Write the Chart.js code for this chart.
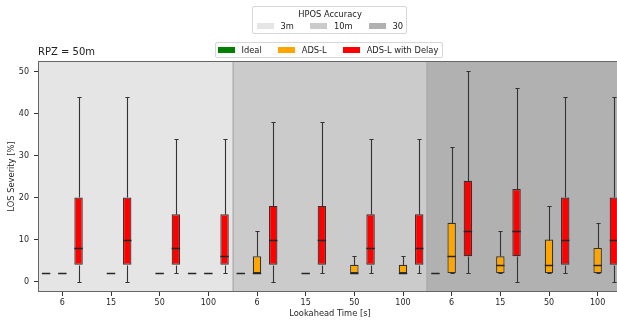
<!DOCTYPE html>
<html>
<head>
<meta charset="utf-8">
<script src="https://cdn.jsdelivr.net/npm/chart.js@4"></script>
<style>
  html, body { margin: 0; padding: 0; background: #fff; overflow: hidden; }
  body { width: 617px; height: 320px; position: relative; font-family: "DejaVu Sans", sans-serif; color: #222; }
  #wrap { position: absolute; left: 0; top: 0; width: 622px; height: 320px; }
  .legend { position: absolute; background: rgba(255,255,255,0.85); border: 1px solid #d6d6d6; border-radius: 2px; font-size: 8.3px; line-height: 10px; }
  .legend .ttl { text-align: center; margin-bottom: 2px; }
  .legend .row { display: flex; align-items: center; white-space: nowrap; }
  .legend .item { display: flex; align-items: center; margin-right: 16.5px; }
  .legend .item:last-child { margin-right: 0; }
  .legend .patch { width: 17px; height: 6px; margin-right: 6.5px; }
  #title { position: absolute; left: 38px; top: 46px; font-size: 10px; line-height: 12px; white-space: nowrap; }
</style>
</head>
<body>
<div id="wrap"><canvas id="chart"></canvas></div>
<div class="legend" id="accLegend" style="left:252px; top:6px; padding:2px 3px 2px 4px;">
  <div class="ttl">HPOS Accuracy</div>
  <div class="row"></div>
</div>
<div class="legend" id="seriesLegend" style="left:215px; top:42px; padding:2px 4px 2px 2px;">
  <div class="row"></div>
</div>
<div id="title">RPZ = 50m</div>
<script>
const categories = ['6', '15', '50', '100', '6', '15', '50', '100', '6', '15', '50', '100'];

const accuracyNames  = ['3m', '10m', '30'];
const accuracyColors = ['#e5e5e5', '#cbcbcb', '#b1b1b1'];

const seriesNames  = ['Ideal', 'ADS-L', 'ADS-L with Delay'];
const seriesColors = ['#008000', '#ffa500', '#ff0000'];

// [min, q1, median, q3, max] per lookahead, null = no box drawn
const ideal = [
    [2, 2, 2, 2, 2], null, null, [2, 2, 2, 2, 2],
    [2, 2, 2, 2, 2], null, null, null,
    [2, 2, 2, 2, 2], null, null, null,
];
const adsl = [
    [2, 2, 2, 2, 2], [2, 2, 2, 2, 2], [2, 2, 2, 2, 2], [2, 2, 2, 2, 2],
    [2, 2, 2, 6, 12], [2, 2, 2, 2, 2], [2, 2, 2, 4, 6], [2, 2, 2, 4, 6],
    [2, 2, 6, 14, 32], [2, 2, 4, 6, 12], [2, 2, 4, 10, 18], [2, 2, 4, 8, 14],
];
const adslDelay = [
    [0, 4, 8, 20, 44], [0, 4, 10, 20, 44], [2, 4, 8, 16, 34], [2, 4, 6, 16, 34],
    [0, 4, 10, 18, 38], [2, 4, 10, 18, 38], [2, 4, 8, 16, 34], [2, 4, 8, 16, 34],
    [2, 6, 12, 24, 50], [0, 6, 12, 22, 46], [2, 4, 10, 20, 44], [0, 4, 10, 20, 44],
];

const yTicks = [0, 10, 20, 30, 40, 50];

const allStats = [ideal, adsl, adslDelay];
const INK = '#262626';
const EDGE = '#333';

// legends
function fillLegend(el, names, colors) {
    const row = el.querySelector('.row');
    names.forEach((n, i) => {
        const item = document.createElement('div');
        item.className = 'item';
        item.innerHTML = `<span class="patch" style="background:${colors[i]}"></span><span>${n}</span>`;
        row.appendChild(item);
    });
}
fillLegend(document.getElementById('accLegend'), accuracyNames, accuracyColors);
fillLegend(document.getElementById('seriesLegend'), seriesNames, seriesColors);

const backgroundSpans = {
    id: 'backgroundSpans',
    beforeDatasetsDraw(chart) {
        const { ctx, chartArea: a, scales: { x } } = chart;
        const per = categories.length / accuracyNames.length;
        const half = (x.getPixelForValue(1) - x.getPixelForValue(0)) / 2;
        ctx.save();
        accuracyColors.forEach((c, g) => {
            const l = g === 0 ? a.left : x.getPixelForValue(g * per) - half;
            const r = g === accuracyColors.length - 1 ? a.right : x.getPixelForValue(g * per + per - 1) + half;
            ctx.fillStyle = c;
            ctx.fillRect(l, a.top, r - l, a.bottom - a.top);
            if (g > 0) {
                ctx.fillStyle = 'rgba(0,0,0,0.12)';
                ctx.fillRect(Math.round(l) - 1, a.top, 2, a.bottom - a.top);
            }
        });
        ctx.restore();
    },
};

const whiskers = {
    id: 'whiskers',
    afterDatasetsDraw(chart) {
        const { ctx, chartArea: a, scales: { y } } = chart;
        ctx.save();
        allStats.forEach((stats, d) => {
            const meta = chart.getDatasetMeta(d);
            stats.forEach((s, i) => {
                if (!s) return;
                const bar = meta.data[i];
                const cx = Math.round(bar.x) + 0.5;
                const w = bar.width;
                const [lo, q1, med, q3, hi] = s.map(v => Math.round(y.getPixelForValue(v)) + 0.5);
                ctx.strokeStyle = EDGE;
                ctx.lineWidth = 1.1;
                ctx.beginPath();
                ctx.moveTo(cx, q1); ctx.lineTo(cx, lo);
                ctx.moveTo(cx, q3); ctx.lineTo(cx, hi);
                ctx.moveTo(cx - w / 4, lo); ctx.lineTo(cx + w / 4, lo);
                ctx.moveTo(cx - w / 4, hi); ctx.lineTo(cx + w / 4, hi);
                ctx.stroke();
                ctx.strokeStyle = INK;
                ctx.lineWidth = 1.5;
                ctx.beginPath();
                ctx.moveTo(bar.x - w / 2, med); ctx.lineTo(bar.x + w / 2, med);
                ctx.stroke();
            });
        });
        // axes frame
        ctx.lineWidth = 1;
        ctx.strokeStyle = '#666';
        ctx.strokeRect(Math.round(a.left) + 0.5, Math.round(a.top) + 0.5,
            Math.round(a.right - a.left), Math.round(a.bottom - a.top) - 1);
        ctx.restore();
    },
};

const tickFont = { family: 'DejaVu Sans', size: 8 };

new Chart(document.getElementById('chart').getContext('2d'), {
    type: 'bar',
    data: {
        labels: categories,
        datasets: allStats.map((stats, d) => ({
            label: seriesNames[d],
            data: stats.map(s => s ? [s[1], s[3]] : null),
            backgroundColor: seriesColors[d],
            borderColor: EDGE,
            borderWidth: 1.2,
            borderSkipped: false,
            categoryPercentage: 1.0,
            barPercentage: 0.52,
        })),
    },
    options: {
        responsive: true,
        maintainAspectRatio: false,
        animation: false,
        layout: { padding: { top: 61, left: 0, right: 0, bottom: 0 } },
        plugins: { legend: { display: false }, tooltip: { enabled: false } },
        scales: {
            x: {
                grid: { offset: false, drawOnChartArea: false, drawTicks: true, tickLength: 4, color: EDGE },
                border: { display: false },
                ticks: { color: INK, font: tickFont, padding: 2, maxRotation: 0, autoSkip: false },
                title: { display: true, text: 'Lookahead Time [s]', color: INK,
                         font: { family: 'DejaVu Sans', size: 8.3 }, padding: { top: 0, bottom: 1 } },
                afterFit: s => { s.height = 28; },
            },
            y: {
                min: -2.5,
                max: 52.5,
                afterBuildTicks: s => { s.ticks = yTicks.map(v => ({ value: v })); },
                grid: { drawOnChartArea: false, drawTicks: true, tickLength: 4, color: EDGE },
                border: { display: false },
                ticks: { color: INK, font: tickFont, padding: 5 },
                title: { display: true, text: 'LOS Severity [%]', color: INK,
                         font: { family: 'DejaVu Sans', size: 8.3 }, padding: { top: 7, bottom: 0 } },
                afterFit: s => { s.width = 38; },
            },
        },
    },
    plugins: [backgroundSpans, whiskers],
});
</script>
</body>
</html>
